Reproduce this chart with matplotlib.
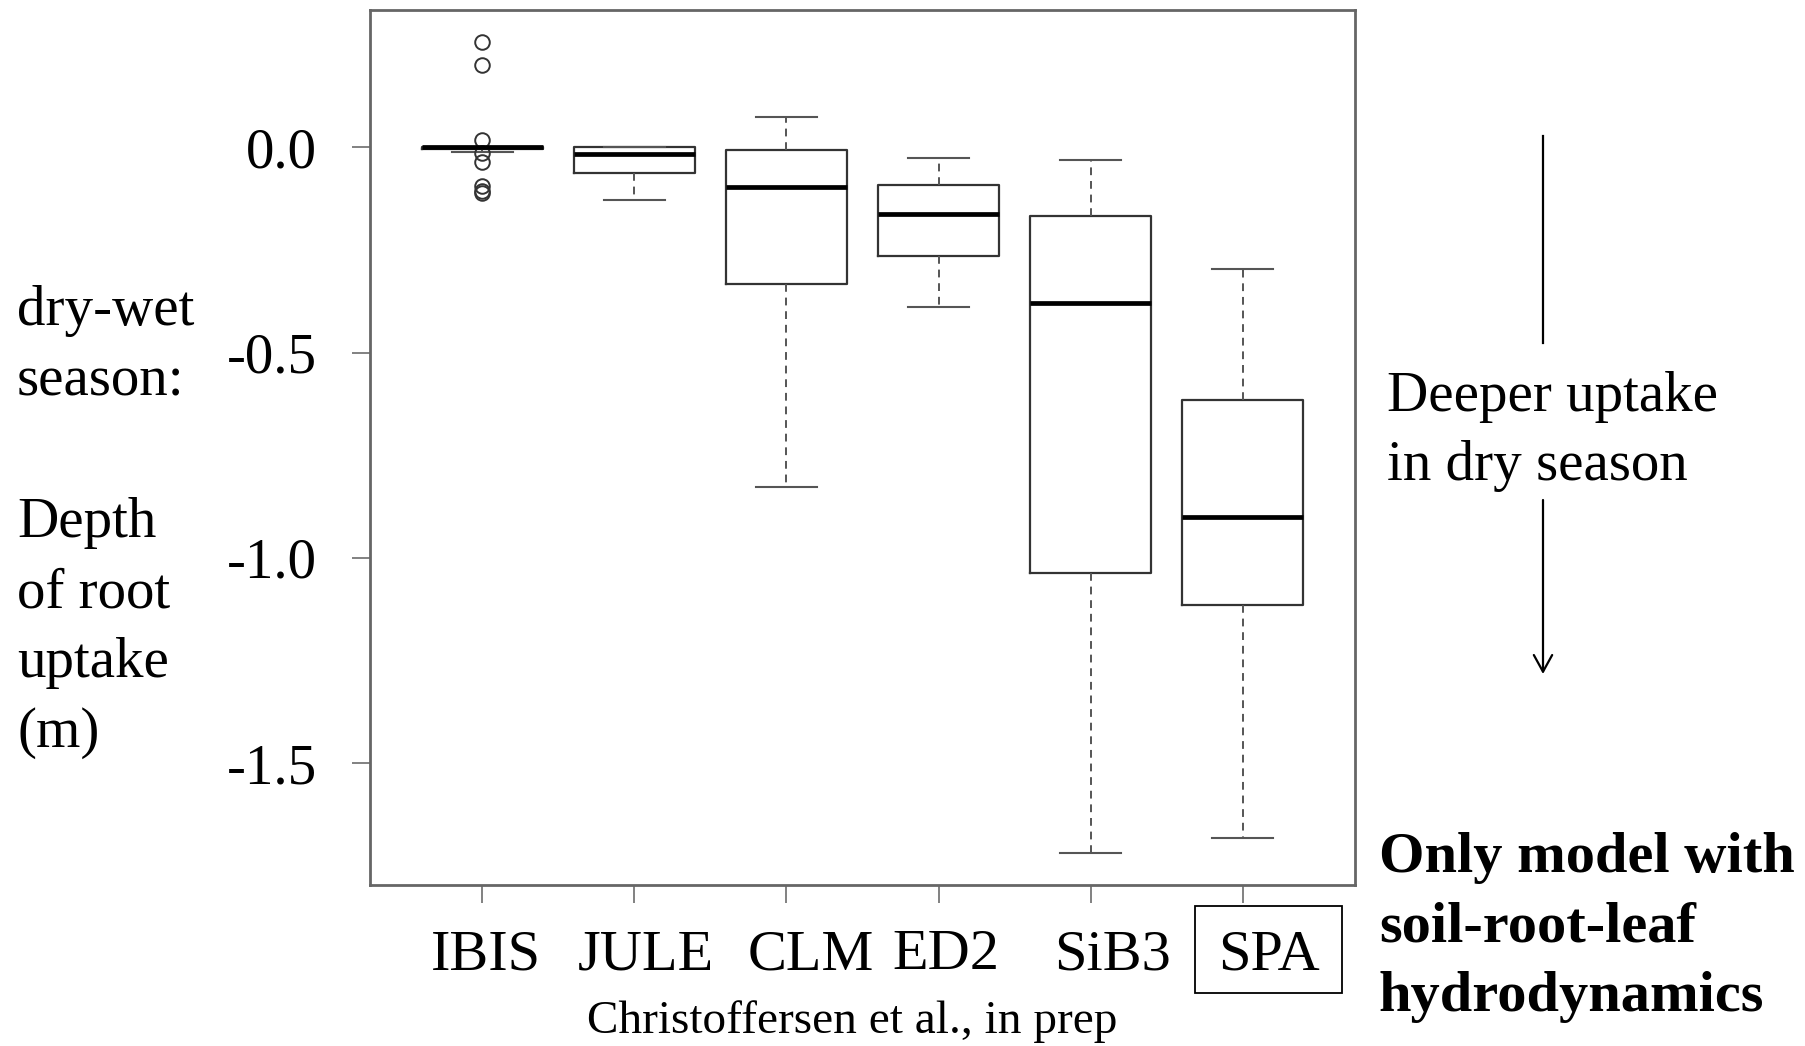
import matplotlib
matplotlib.use("Agg")
import matplotlib.pyplot as plt
from matplotlib.lines import Line2D
from matplotlib.patches import Rectangle, FancyArrowPatch
from matplotlib.transforms import ScaledTranslation

# ---- data -------------------------------------------------------------
models = ["IBIS", "JULE", "CLM", "ED2", "SiB3", "SPA"]
whisker_low = [-0.012, -0.128, -0.827, -0.388, -1.720, -1.682]
quartile_1 = [-0.003, -0.062, -0.333, -0.264, -1.036, -1.114]
medians = [0.000, -0.017, -0.096, -0.163, -0.378, -0.900]
quartile_3 = [0.000, 0.000, -0.005, -0.092, -0.166, -0.615]
whisker_high = [0.000, 0.000, 0.075, -0.025, -0.031, -0.296]
ibis_outliers = [0.257, 0.202, 0.018, -0.014, -0.035, -0.095, -0.105, -0.110]

y_ticks = [0.0, -0.5, -1.0, -1.5]
y_tick_labels = ["0.0", "-0.5", "-1.0", "-1.5"]

# horizontal nudges (pixels) of the model names under their ticks
label_nudge_px = [3, 11, 24, 7, 22, 26]

# ---- figure -----------------------------------------------------------
W, H = 1806, 1046
DPI = 100
plt.rcParams["font.family"] = ["Liberation Serif", "DejaVu Serif"]

fig = plt.figure(figsize=(W / DPI, H / DPI), dpi=DPI)


def fpos(x, y):
    """pixel position (from top-left) -> figure fraction"""
    return x / W, 1 - y / H


ax = fig.add_axes([370 / W, 1 - 885 / H, (1355 - 370) / W, (885 - 10) / H])

stats = []
for i, name in enumerate(models):
    stats.append(dict(
        label=name,
        whislo=whisker_low[i], q1=quartile_1[i], med=medians[i],
        q3=quartile_3[i], whishi=whisker_high[i],
        fliers=ibis_outliers if name == "IBIS" else [],
    ))

positions = list(range(1, len(models) + 1))
box_col = "#333333"
ax.bxp(
    stats, positions=positions, widths=0.8, capwidths=0.4,
    boxprops=dict(color=box_col, linewidth=1.6),
    medianprops=dict(color="black", linewidth=3.4),
    whiskerprops=dict(color="#555555", linewidth=1.4, linestyle=(0, (4, 3))),
    capprops=dict(color="#555555", linewidth=1.5),
    flierprops=dict(marker="o", markersize=10.5, markerfacecolor="none",
                    markeredgecolor="#333333", markeredgewidth=1.4),
)

ax.set_xlim(0.26, 6.74)
ax.set_ylim(-1.797, 0.335)

ax.set_yticks(y_ticks)
ax.set_yticklabels(y_tick_labels, fontsize=41)
ax.set_xticks(positions)
ax.set_xticklabels(models, fontsize=42)
ax.tick_params(axis="y", length=13, width=1.3, color="#777777", pad=25)
ax.tick_params(axis="x", length=13, width=1.3, color="#777777", pad=19)

for sp in ax.spines.values():
    sp.set_color("#666666")
    sp.set_linewidth(2.0)

for lbl, dx in zip(ax.get_xticklabels(), label_nudge_px):
    lbl.set_transform(lbl.get_transform() +
                      ScaledTranslation(dx / DPI, 0, fig.dpi_scale_trans))

# ---- annotations ------------------------------------------------------
for txt, yb in [("dry-wet", 325), ("season:", 395),
                ("Depth", 537), ("of root", 607), ("uptake", 677), ("(m)", 747)]:
    fig.text(*fpos(17, yb), txt, fontsize=41, ha="left", va="baseline")

for txt, yb in [("Deeper uptake", 411), ("in dry season", 480)]:
    fig.text(*fpos(1387, yb), txt, fontsize=41, ha="left", va="baseline")

for txt, yb in [("Only model with", 872), ("soil-root-leaf", 942),
                ("hydrodynamics", 1011)]:
    fig.text(*fpos(1379, yb), txt, fontsize=42, fontweight="bold",
             ha="left", va="baseline")

fig.text(*fpos(852, 1033), "Christoffersen et al., in prep", fontsize=34,
         ha="center", va="baseline")

# arrow pointing to deeper uptake
fig.add_artist(Line2D([fpos(1543, 0)[0]] * 2,
                      [fpos(0, 136)[1], fpos(0, 343)[1]],
                      transform=fig.transFigure, color="black", linewidth=1.6))
fig.add_artist(FancyArrowPatch(
    fpos(1543, 500), fpos(1543, 674), transform=fig.transFigure,
    arrowstyle="->,head_length=0.6,head_width=0.33", mutation_scale=20,
    color="black", linewidth=1.6, shrinkA=0, shrinkB=0))

# frame around the SPA label
fig.canvas.draw()
spa = ax.get_xticklabels()[-1]
bb = spa.get_window_extent()
pad_x, pad_top, pad_bot = 23, 23, 12
fig.add_artist(Rectangle(
    ((bb.x0 - pad_x) / W, (bb.y0 - pad_bot) / H),
    (bb.width + 2 * pad_x) / W, (bb.height + pad_top + pad_bot) / H,
    transform=fig.transFigure, fill=False, edgecolor="black", linewidth=1.3))

fig.savefig("out.png", dpi=DPI)
